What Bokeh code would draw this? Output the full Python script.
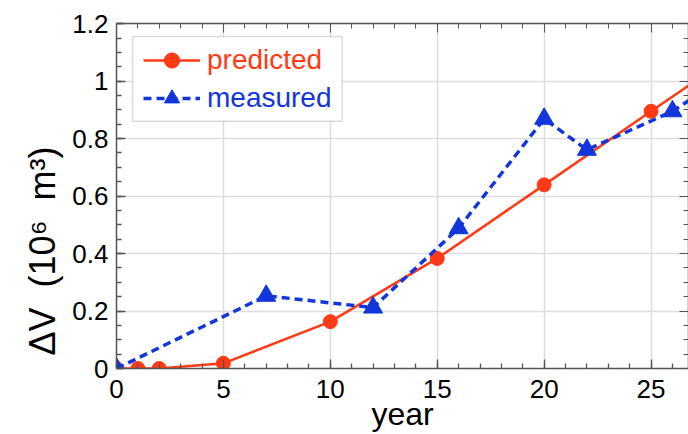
from bokeh.plotting import figure
from bokeh.models import (LinearAxis, Legend, LegendItem, BoxAnnotation,
                          CustomJSTickFormatter, Range1d, SingleIntervalTicker)
from bokeh.embed import file_html
from bokeh.resources import INLINE

# ---- data ----
pred_year = [0, 1, 2, 5, 10, 15, 20, 25, 30]
pred_dv = [0.0, 0.0, 0.0, 0.018, 0.163, 0.383, 0.639, 0.895, 1.15]
meas_year = [0, 7, 12, 16, 20, 22, 26, 30]
meas_dv = [0.0, 0.253, 0.212, 0.488, 0.869, 0.761, 0.895, 1.09]

RED = "#ff3a14"
BLUE = "#1236dc"
FONT = "Liberation Sans"
AXC = "#555555"
NB = "\u00a0"

p = figure(width=688, height=434, output_backend="svg", toolbar_location=None,
           x_range=Range1d(0, 26.75), y_range=Range1d(0, 1.2005),
           min_border_left=116, min_border_right=0, min_border_top=23,
           min_border_bottom=66, outline_line_color=None,
           background_fill_color="white", border_fill_color="white")

p.xaxis.ticker = SingleIntervalTicker(interval=5, num_minor_ticks=5)
p.yaxis.ticker = SingleIntervalTicker(interval=0.2, num_minor_ticks=4)
p.yaxis.formatter = CustomJSTickFormatter(
    code="return tick.toFixed(1).replace(/\\.0$/, '');")

for ax in (p.xaxis[0], p.yaxis[0]):
    ax.axis_line_color = AXC
    ax.axis_line_width = 1.5
    ax.major_tick_line_color = AXC
    ax.minor_tick_line_color = AXC
    ax.major_tick_in = 9
    ax.major_tick_out = 0
    ax.minor_tick_in = 5
    ax.minor_tick_out = 0
    ax.major_tick_line_width = 1.3
    ax.minor_tick_line_width = 1.3
    ax.major_label_text_font = FONT
    ax.major_label_text_font_size = "26px"
    ax.major_label_text_color = "black"
    ax.axis_label_text_font = FONT
    ax.axis_label_text_font_style = "normal"
    ax.axis_label_text_font_size = "32px"
    ax.axis_label_text_color = "black"

p.xaxis.axis_label = "year"
p.xaxis.major_label_standoff = 11
p.xaxis.axis_label_standoff = -5
p.yaxis.axis_label = ("ΔV" + NB * 2 + "(10⁶" + NB * 2 + "m³)" + NB * 11)
p.yaxis.axis_label_text_font_size = "36px"
p.yaxis.major_label_standoff = 8
p.yaxis.axis_label_standoff = 6

# mirrored axes (ticks only)
blank = CustomJSTickFormatter(code="return '';")
top = LinearAxis(ticker=SingleIntervalTicker(interval=5, num_minor_ticks=5),
                 formatter=blank)
right = LinearAxis(ticker=SingleIntervalTicker(interval=0.2, num_minor_ticks=4),
                   formatter=blank)
for ax in (top, right):
    ax.axis_line_color = AXC
    ax.axis_line_width = 1.5
    ax.major_tick_line_color = AXC
    ax.minor_tick_line_color = AXC
    ax.major_tick_in = 9
    ax.major_tick_out = 0
    ax.minor_tick_in = 5
    ax.minor_tick_out = 0
    ax.major_label_standoff = 0
    ax.major_label_text_font_size = "1px"
p.add_layout(top, "above")
p.add_layout(right, "right")

p.xgrid.grid_line_color = "#dddddd"
p.ygrid.grid_line_color = "#dddddd"
p.xgrid.grid_line_width = 1.5
p.ygrid.grid_line_width = 1.5

pl = p.line(pred_year, pred_dv, line_color=RED, line_width=2.5)
ps = p.scatter(pred_year, pred_dv, marker="circle", size=14,
               fill_color=RED, line_color=RED)
ml = p.line(meas_year, meas_dv, line_color=BLUE, line_width=3.5,
            line_dash="8 5")
ms = p.scatter(meas_year, meas_dv, marker="triangle", size=19,
               fill_color=BLUE, line_color=BLUE)

# legend frame
p.add_layout(BoxAnnotation(left=0.75, right=10.55, bottom=0.86, top=1.155,
                           fill_color="white", fill_alpha=1.0,
                           line_color="#888888", line_width=1.5,
                           level="annotation"))

def make_legend(label, rends, color, loc):
    return Legend(items=[LegendItem(label=label, renderers=rends)],
                  location=loc, padding=0, margin=0, spacing=0,
                  glyph_width=57, glyph_height=38, label_height=38,
                  label_standoff=7, label_text_font=FONT,
                  label_text_font_size="28px", label_text_color=color,
                  background_fill_alpha=0, border_line_alpha=0)

p.add_layout(make_legend("predicted", [pl, ps], RED, (27, 289)))
p.add_layout(make_legend("measured", [ml, ms], BLUE, (27, 251)))

open("out.html", "w").write(file_html(p, INLINE))
